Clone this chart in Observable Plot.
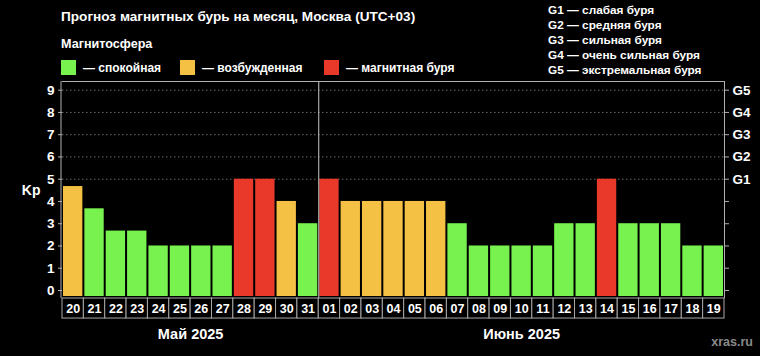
<!DOCTYPE html>
<html>
<head>
<meta charset="utf-8">
<script src="https://cdn.jsdelivr.net/npm/d3@7"></script>
<script src="https://cdn.jsdelivr.net/npm/@observablehq/plot@0.6"></script>
<style>
  html, body { margin: 0; padding: 0; background: #000; }
  #wrap { position: relative; width: 760px; height: 356px; background: #000; overflow: hidden;
          font-family: "Liberation Sans", Arial, sans-serif; font-weight: bold; color: #fff; }
  #wrap svg { position: absolute; left: 0; top: 0; }
  .abs { position: absolute; white-space: nowrap; }
  #title { left: 61px; top: 9px; font-size: 13.6px; }
  #sub { left: 61px; top: 37px; font-size: 12.6px; }
  .leg { top: 60px; font-size: 12px; display: flex; align-items: center; }
  .sw { width: 15px; height: 15px; margin-right: 7px; }
  #glegend { left: 548px; top: 3px; font-size: 11.8px; line-height: 15px; }
  #src { right: 7px; top: 335px; font-size: 12.5px; color: #8a8a8a; }
</style>
</head>
<body>
<div id="wrap"></div>
<script>
// ---- data ----
const days = ["20","21","22","23","24","25","26","27","28","29","30","31",
              "01","02","03","04","05","06","07","08","09","10","11","12","13","14","15","16","17","18","19"];
const kp   = [4.67,3.67,2.67,2.67,2,2,2,2,5,5,4,3,
              5,4,4,4,4,4,3,2,2,2,2,3,3,5,3,3,3,2,2];
const months = ["Май 2025", "Июнь 2025"];
const monthDayCounts = [12, 19];
const stateNames = ["спокойная", "возбужденная", "магнитная буря"];
const stateColors = ["#78f24e", "#f4c144", "#e8392b"];
const gLabels = ["G1", "G2", "G3", "G4", "G5"];
const gNames = ["слабая буря", "средняя буря", "сильная буря", "очень сильная буря", "экстремальная буря"];
const kpTicks = [0,1,2,3,4,5,6,7,8,9];
const titleText = "Прогноз магнитных бурь на месяц, Москва (UTC+03)";
const subtitleText = "Магнитосфера";
const sourceText = "xras.ru";

// ---- build ----
const state = v => v >= 5 ? 2 : v >= 4 ? 1 : 0;
const data = days.map((d, i) => ({i, day: d, kp: kp[i], s: state(kp[i])}));

const YMIN = -0.27, YMAX = 9.39;        // plot area extent in Kp units
const ROW_TOP = -0.36, ROW_BOT = -1.26; // day-label row below the plot
const MONTH_Y = -1.98;

let start = 0;
const monthData = months.map((m, k) => {
  const c = start + (monthDayCounts[k] - 1) / 2;
  start += monthDayCounts[k];
  return {label: m, x: c};
});
const sepX = monthDayCounts[0] - 0.5;

const wrap = document.getElementById("wrap");

const chart = Plot.plot({
  width: 760,
  height: 356,
  marginTop: 81,
  marginBottom: 60,
  marginLeft: 62,
  marginRight: 36,
  style: {background: "#000", color: "#fff", fontFamily: "Liberation Sans, Arial, sans-serif", fontWeight: "bold"},
  x: {type: "linear", domain: [-0.5, days.length - 0.5], axis: null},
  y: {domain: [YMIN, YMAX], axis: null},
  color: {domain: [0, 1, 2], range: stateColors, type: "ordinal"},
  marks: [
    Plot.ruleY([5,6,7,8,9], {x1: -0.5, x2: days.length - 0.5, stroke: "#6a6a6a", strokeDasharray: "1.5,2.5"}),
    Plot.rectY(data, {x1: d => d.i - 0.5, x2: d => d.i + 0.5, y1: YMIN, y2: "kp", fill: "s", insetLeft: 1, insetRight: 1}),
    Plot.ruleX([sepX], {y1: ROW_TOP, y2: YMAX, stroke: "#c8c8c8"}),
    Plot.ruleY([YMAX], {x1: -0.5, x2: days.length - 0.5, stroke: "#b0b0b0"}),
    Plot.ruleX([-0.5 - 0.07, days.length - 0.5], {y1: ROW_TOP, y2: YMAX, stroke: "#b0b0b0"}),
    Plot.rect(data, {x1: d => d.i - 0.5, x2: d => d.i + 0.5, y1: ROW_BOT, y2: ROW_TOP, fill: "#000", stroke: "#a8a8a8"}),
    Plot.text(data, {x: "i", y: (ROW_TOP + ROW_BOT) / 2, text: "day", fill: "#fff", fontSize: 12.5, fontWeight: "bold"}),
    Plot.text(monthData, {x: "x", y: MONTH_Y, text: "label", fill: "#fff", fontSize: 14.5, fontWeight: "bold"}),
    Plot.axisY({anchor: "left", ticks: kpTicks, tickSize: 4, tickPadding: 4, stroke: "#b0b0b0", fill: "#fff", fontSize: 13.5, fontWeight: "bold", label: null}),
    Plot.axisY({anchor: "right", ticks: kpTicks, tickSize: 4, tickPadding: 4, stroke: "#b0b0b0", fill: "#fff", fontSize: 13.5, fontWeight: "bold", label: null,
      tickFormat: d => d >= 5 ? gLabels[d - 5] : ""}),
    Plot.text(["Kp"], {frameAnchor: "left", y: 4.5, dx: -22, textAnchor: "end", fill: "#fff", fontSize: 14, fontWeight: "bold"})
  ]
});
wrap.appendChild(chart);

function addDiv(id, cls, html) {
  const el = document.createElement("div");
  if (id) el.id = id;
  el.className = "abs " + (cls || "");
  el.innerHTML = html;
  wrap.appendChild(el);
  return el;
}
addDiv("title", "", titleText);
addDiv("sub", "", subtitleText);
const legX = [61, 180, 324];
stateNames.forEach((n, k) => {
  const el = addDiv(null, "leg", `<span class="sw" style="background:${stateColors[k]}"></span><span>— ${n}</span>`);
  el.style.left = legX[k] + "px";
});
addDiv("glegend", "", gLabels.map((g, k) => `${g} — ${gNames[k]}`).join("<br>"));
addDiv("src", "", sourceText);
</script>
</body>
</html>
